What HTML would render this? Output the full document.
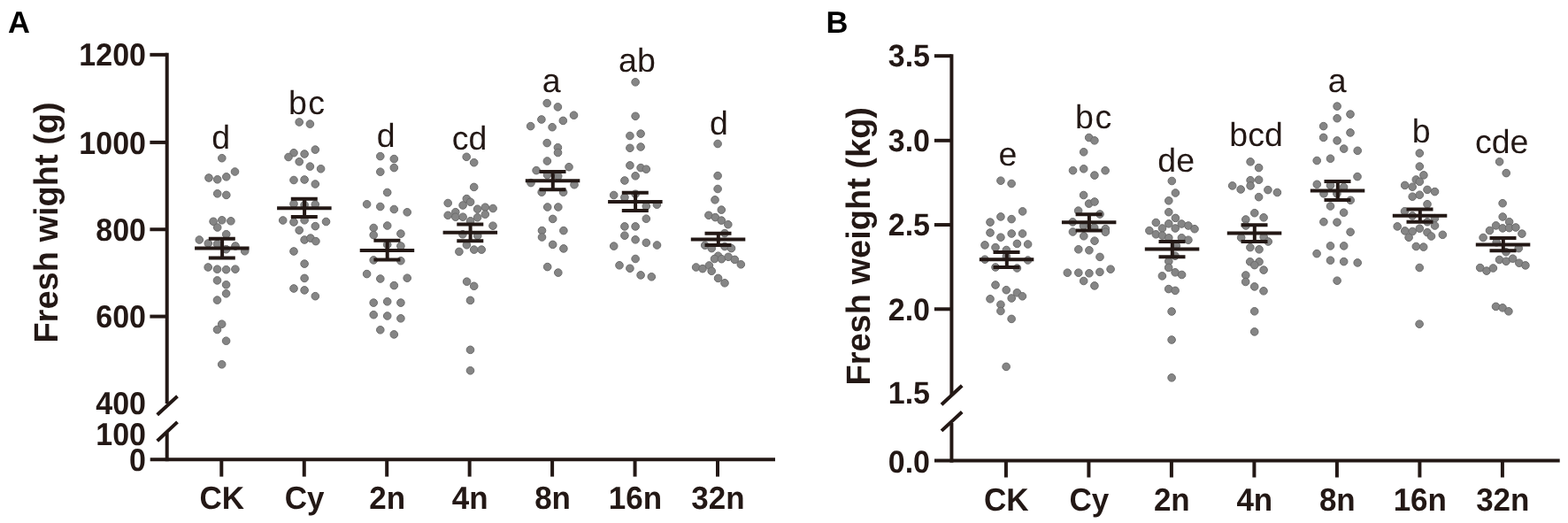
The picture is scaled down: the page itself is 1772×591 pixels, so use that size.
<!DOCTYPE html>
<html><head><meta charset="utf-8"><title>Fresh weight</title>
<style>html,body{margin:0;padding:0;background:#fff;}svg{display:block;}</style>
</head><body>
<svg width="1772" height="591" viewBox="0 0 1772 591" text-rendering="geometricPrecision">
<rect width="1772" height="591" fill="#fff"/>
<g fill="#858585" stroke="#6c6c6c" stroke-width="1.0">
<circle cx="250.8" cy="178.7" r="4.3"/>
<circle cx="265.5" cy="194" r="4.3"/>
<circle cx="236" cy="201" r="4.3"/>
<circle cx="245.7" cy="202.8" r="4.3"/>
<circle cx="255.8" cy="199.8" r="4.3"/>
<circle cx="245.7" cy="218.8" r="4.3"/>
<circle cx="255.8" cy="220.4" r="4.3"/>
<circle cx="241.1" cy="250.3" r="4.3"/>
<circle cx="250.8" cy="248.8" r="4.3"/>
<circle cx="260.9" cy="249.8" r="4.3"/>
<circle cx="245.7" cy="257" r="4.3"/>
<circle cx="255.7" cy="264.7" r="4.3"/>
<circle cx="225.3" cy="271" r="4.3"/>
<circle cx="235.3" cy="275" r="4.3"/>
<circle cx="245.5" cy="275.7" r="4.3"/>
<circle cx="266" cy="278" r="4.3"/>
<circle cx="276.7" cy="283.8" r="4.3"/>
<circle cx="255.6" cy="281.7" r="4.3"/>
<circle cx="235.2" cy="302" r="4.3"/>
<circle cx="245.5" cy="304.2" r="4.3"/>
<circle cx="255.6" cy="304.7" r="4.3"/>
<circle cx="265.9" cy="304.2" r="4.3"/>
<circle cx="245.5" cy="316.9" r="4.3"/>
<circle cx="255.6" cy="321.8" r="4.3"/>
<circle cx="255.6" cy="331.8" r="4.3"/>
<circle cx="245.5" cy="339.1" r="4.3"/>
<circle cx="250.7" cy="366.2" r="4.3"/>
<circle cx="245.5" cy="372.5" r="4.3"/>
<circle cx="255.6" cy="385.2" r="4.3"/>
<circle cx="250.7" cy="411.8" r="4.3"/>
<circle cx="338.2" cy="138" r="4.3"/>
<circle cx="350.4" cy="140.1" r="4.3"/>
<circle cx="332" cy="172.7" r="4.3"/>
<circle cx="326" cy="177.5" r="4.3"/>
<circle cx="344.1" cy="174" r="4.3"/>
<circle cx="356.3" cy="169.1" r="4.3"/>
<circle cx="338.2" cy="182.7" r="4.3"/>
<circle cx="350.4" cy="188.1" r="4.3"/>
<circle cx="362.6" cy="190.8" r="4.3"/>
<circle cx="332" cy="203.5" r="4.3"/>
<circle cx="344.1" cy="203" r="4.3"/>
<circle cx="356.3" cy="208" r="4.3"/>
<circle cx="332" cy="230.4" r="4.3"/>
<circle cx="344.1" cy="231.5" r="4.3"/>
<circle cx="356.3" cy="231" r="4.3"/>
<circle cx="319.7" cy="249" r="4.3"/>
<circle cx="332" cy="251" r="4.3"/>
<circle cx="344.1" cy="248.8" r="4.3"/>
<circle cx="356.3" cy="255.6" r="4.3"/>
<circle cx="368.5" cy="250.5" r="4.3"/>
<circle cx="338.2" cy="260.2" r="4.3"/>
<circle cx="344.1" cy="271" r="4.3"/>
<circle cx="350.9" cy="269.1" r="4.3"/>
<circle cx="356.9" cy="272.6" r="4.3"/>
<circle cx="332" cy="284" r="4.3"/>
<circle cx="344.1" cy="298.1" r="4.3"/>
<circle cx="344.1" cy="314.4" r="4.3"/>
<circle cx="332" cy="326" r="4.3"/>
<circle cx="344.1" cy="327.9" r="4.3"/>
<circle cx="356.3" cy="334.7" r="4.3"/>
<circle cx="429.8" cy="176.6" r="4.3"/>
<circle cx="445.3" cy="179.6" r="4.3"/>
<circle cx="429.8" cy="194.2" r="4.3"/>
<circle cx="445.3" cy="189.6" r="4.3"/>
<circle cx="437.7" cy="217.5" r="4.3"/>
<circle cx="414.6" cy="230.8" r="4.3"/>
<circle cx="429.8" cy="233.5" r="4.3"/>
<circle cx="445.3" cy="236.5" r="4.3"/>
<circle cx="460.2" cy="239.8" r="4.3"/>
<circle cx="422.2" cy="257.5" r="4.3"/>
<circle cx="437.7" cy="255" r="4.3"/>
<circle cx="422.2" cy="265.6" r="4.3"/>
<circle cx="452.9" cy="264.1" r="4.3"/>
<circle cx="437.7" cy="276.5" r="4.3"/>
<circle cx="452.9" cy="278" r="4.3"/>
<circle cx="422.2" cy="293.9" r="4.3"/>
<circle cx="452.9" cy="294.7" r="4.3"/>
<circle cx="414.6" cy="309.6" r="4.3"/>
<circle cx="429.8" cy="315" r="4.3"/>
<circle cx="445.3" cy="322.6" r="4.3"/>
<circle cx="460.2" cy="314.2" r="4.3"/>
<circle cx="422.2" cy="342.1" r="4.3"/>
<circle cx="437.7" cy="340.8" r="4.3"/>
<circle cx="452.9" cy="342.1" r="4.3"/>
<circle cx="422.2" cy="355.7" r="4.3"/>
<circle cx="437.7" cy="357" r="4.3"/>
<circle cx="452.9" cy="359.8" r="4.3"/>
<circle cx="429.8" cy="372.8" r="4.3"/>
<circle cx="445.3" cy="377.9" r="4.3"/>
<circle cx="527.2" cy="177.3" r="4.3"/>
<circle cx="535.7" cy="183.7" r="4.3"/>
<circle cx="535.7" cy="211.4" r="4.3"/>
<circle cx="506.2" cy="229.5" r="4.3"/>
<circle cx="527.3" cy="224.6" r="4.3"/>
<circle cx="531.6" cy="228.2" r="4.3"/>
<circle cx="523.1" cy="232" r="4.3"/>
<circle cx="539.6" cy="236.2" r="4.3"/>
<circle cx="548.3" cy="234.2" r="4.3"/>
<circle cx="557.1" cy="235.5" r="4.3"/>
<circle cx="506.2" cy="243.3" r="4.3"/>
<circle cx="514.8" cy="239.7" r="4.3"/>
<circle cx="514.8" cy="245.2" r="4.3"/>
<circle cx="523.1" cy="245.2" r="4.3"/>
<circle cx="531.6" cy="249.8" r="4.3"/>
<circle cx="539.6" cy="245.8" r="4.3"/>
<circle cx="548.3" cy="242.2" r="4.3"/>
<circle cx="557" cy="255.2" r="4.3"/>
<circle cx="522.9" cy="264.8" r="4.3"/>
<circle cx="539.8" cy="266.4" r="4.3"/>
<circle cx="527.4" cy="276.8" r="4.3"/>
<circle cx="518.9" cy="284.4" r="4.3"/>
<circle cx="535.7" cy="282.1" r="4.3"/>
<circle cx="544.2" cy="282.1" r="4.3"/>
<circle cx="527.6" cy="318.2" r="4.3"/>
<circle cx="535.7" cy="323.3" r="4.3"/>
<circle cx="531.5" cy="339.4" r="4.3"/>
<circle cx="531.5" cy="395.3" r="4.3"/>
<circle cx="531.5" cy="418.8" r="4.3"/>
<circle cx="618.2" cy="116.6" r="4.3"/>
<circle cx="630.4" cy="120.9" r="4.3"/>
<circle cx="648.5" cy="130.2" r="4.3"/>
<circle cx="611.9" cy="135" r="4.3"/>
<circle cx="636.3" cy="136.4" r="4.3"/>
<circle cx="599.7" cy="142.6" r="4.3"/>
<circle cx="624.1" cy="143.7" r="4.3"/>
<circle cx="618.2" cy="161.6" r="4.3"/>
<circle cx="630.4" cy="166.7" r="4.3"/>
<circle cx="630.5" cy="172.5" r="4.3"/>
<circle cx="618.4" cy="182" r="4.3"/>
<circle cx="606.1" cy="192.6" r="4.3"/>
<circle cx="643" cy="188.7" r="4.3"/>
<circle cx="618.5" cy="197.7" r="4.3"/>
<circle cx="630.7" cy="199.1" r="4.3"/>
<circle cx="600" cy="206.6" r="4.3"/>
<circle cx="649" cy="208.7" r="4.3"/>
<circle cx="612.2" cy="217.2" r="4.3"/>
<circle cx="636.6" cy="217.2" r="4.3"/>
<circle cx="618.7" cy="234" r="4.3"/>
<circle cx="630.8" cy="234" r="4.3"/>
<circle cx="624.7" cy="247.4" r="4.3"/>
<circle cx="612.5" cy="260.6" r="4.3"/>
<circle cx="636.9" cy="260.6" r="4.3"/>
<circle cx="612.5" cy="268" r="4.3"/>
<circle cx="624.7" cy="276.4" r="4.3"/>
<circle cx="636.9" cy="280.9" r="4.3"/>
<circle cx="618.7" cy="301.6" r="4.3"/>
<circle cx="630.8" cy="308.1" r="4.3"/>
<circle cx="718.1" cy="92.8" r="4.3"/>
<circle cx="718.1" cy="131.3" r="4.3"/>
<circle cx="711.9" cy="153.5" r="4.3"/>
<circle cx="724.1" cy="151.1" r="4.3"/>
<circle cx="711.9" cy="167.3" r="4.3"/>
<circle cx="724.1" cy="166" r="4.3"/>
<circle cx="711.9" cy="186.9" r="4.3"/>
<circle cx="724.1" cy="189.6" r="4.3"/>
<circle cx="730.3" cy="191.2" r="4.3"/>
<circle cx="718.1" cy="198.8" r="4.3"/>
<circle cx="705.9" cy="204" r="4.3"/>
<circle cx="693.7" cy="220.5" r="4.3"/>
<circle cx="705.9" cy="223" r="4.3"/>
<circle cx="718.1" cy="219.3" r="4.3"/>
<circle cx="730.3" cy="233" r="4.3"/>
<circle cx="742.4" cy="231.2" r="4.3"/>
<circle cx="730.3" cy="247.2" r="4.3"/>
<circle cx="705.9" cy="255.9" r="4.3"/>
<circle cx="718.1" cy="255.9" r="4.3"/>
<circle cx="705.9" cy="266.2" r="4.3"/>
<circle cx="718.1" cy="270.8" r="4.3"/>
<circle cx="730.3" cy="274.3" r="4.3"/>
<circle cx="742.5" cy="277" r="4.3"/>
<circle cx="693.7" cy="278.1" r="4.3"/>
<circle cx="718.1" cy="292.5" r="4.3"/>
<circle cx="700" cy="299.8" r="4.3"/>
<circle cx="711.9" cy="303.3" r="4.3"/>
<circle cx="724.1" cy="310.9" r="4.3"/>
<circle cx="736.3" cy="312.8" r="4.3"/>
<circle cx="811.1" cy="162.5" r="4.3"/>
<circle cx="811.1" cy="198.6" r="4.3"/>
<circle cx="811.1" cy="213.5" r="4.3"/>
<circle cx="808" cy="225.8" r="4.3"/>
<circle cx="815.3" cy="237.1" r="4.3"/>
<circle cx="800.9" cy="243.3" r="4.3"/>
<circle cx="808.3" cy="245.6" r="4.3"/>
<circle cx="815.3" cy="249.1" r="4.3"/>
<circle cx="822.8" cy="253.7" r="4.3"/>
<circle cx="819" cy="263.6" r="4.3"/>
<circle cx="796.7" cy="277.2" r="4.3"/>
<circle cx="804.2" cy="280.6" r="4.3"/>
<circle cx="819" cy="278.5" r="4.3"/>
<circle cx="826.5" cy="280.6" r="4.3"/>
<circle cx="811.6" cy="289.2" r="4.3"/>
<circle cx="807.5" cy="292.5" r="4.3"/>
<circle cx="815.4" cy="292.7" r="4.3"/>
<circle cx="823.1" cy="290.3" r="4.3"/>
<circle cx="830.3" cy="293.4" r="4.3"/>
<circle cx="837.3" cy="298.8" r="4.3"/>
<circle cx="786.6" cy="302" r="4.3"/>
<circle cx="794" cy="303.6" r="4.3"/>
<circle cx="801.4" cy="300" r="4.3"/>
<circle cx="804.2" cy="306.3" r="4.3"/>
<circle cx="811.6" cy="314.4" r="4.3"/>
<circle cx="819" cy="319.8" r="4.3"/>
<circle cx="1130.9" cy="204.2" r="4.3"/>
<circle cx="1143.1" cy="207.5" r="4.3"/>
<circle cx="1155.6" cy="238.9" r="4.3"/>
<circle cx="1119" cy="251.1" r="4.3"/>
<circle cx="1130.9" cy="244.9" r="4.3"/>
<circle cx="1143.1" cy="247.6" r="4.3"/>
<circle cx="1119" cy="263" r="4.3"/>
<circle cx="1130.9" cy="268.2" r="4.3"/>
<circle cx="1143.2" cy="264" r="4.3"/>
<circle cx="1155.5" cy="264" r="4.3"/>
<circle cx="1113" cy="276.9" r="4.3"/>
<circle cx="1125" cy="279.6" r="4.3"/>
<circle cx="1137.3" cy="282.5" r="4.3"/>
<circle cx="1149.4" cy="275.4" r="4.3"/>
<circle cx="1161.6" cy="276" r="4.3"/>
<circle cx="1113" cy="293.2" r="4.3"/>
<circle cx="1137.3" cy="289.8" r="4.3"/>
<circle cx="1161.6" cy="294" r="4.3"/>
<circle cx="1125" cy="302" r="4.3"/>
<circle cx="1149.4" cy="303" r="4.3"/>
<circle cx="1125" cy="322" r="4.3"/>
<circle cx="1137.2" cy="327.7" r="4.3"/>
<circle cx="1149.4" cy="330.8" r="4.3"/>
<circle cx="1155.4" cy="334.8" r="4.3"/>
<circle cx="1119" cy="337.8" r="4.3"/>
<circle cx="1143.2" cy="337" r="4.3"/>
<circle cx="1130.9" cy="344.2" r="4.3"/>
<circle cx="1130.9" cy="351.5" r="4.3"/>
<circle cx="1143.1" cy="360.4" r="4.3"/>
<circle cx="1137.1" cy="414.4" r="4.3"/>
<circle cx="1230.7" cy="155.5" r="4.3"/>
<circle cx="1236.9" cy="158.8" r="4.3"/>
<circle cx="1224.7" cy="171.8" r="4.3"/>
<circle cx="1212.5" cy="192.7" r="4.3"/>
<circle cx="1224.7" cy="190.8" r="4.3"/>
<circle cx="1236.9" cy="198.1" r="4.3"/>
<circle cx="1249.1" cy="192.7" r="4.3"/>
<circle cx="1224.6" cy="220.5" r="4.3"/>
<circle cx="1230.6" cy="230.1" r="4.3"/>
<circle cx="1237" cy="228" r="4.3"/>
<circle cx="1218.6" cy="238.1" r="4.3"/>
<circle cx="1243" cy="242" r="4.3"/>
<circle cx="1212.3" cy="250.9" r="4.3"/>
<circle cx="1224.5" cy="255.2" r="4.3"/>
<circle cx="1236.7" cy="257.2" r="4.3"/>
<circle cx="1249.3" cy="258.6" r="4.3"/>
<circle cx="1249.3" cy="262.2" r="4.3"/>
<circle cx="1212.4" cy="262" r="4.3"/>
<circle cx="1224.8" cy="266.8" r="4.3"/>
<circle cx="1237" cy="272.2" r="4.3"/>
<circle cx="1218.8" cy="281.8" r="4.3"/>
<circle cx="1230.9" cy="282.8" r="4.3"/>
<circle cx="1243" cy="290.4" r="4.3"/>
<circle cx="1206.3" cy="308.2" r="4.3"/>
<circle cx="1218.8" cy="308.2" r="4.3"/>
<circle cx="1230.9" cy="308.8" r="4.3"/>
<circle cx="1242.9" cy="307.4" r="4.3"/>
<circle cx="1255.1" cy="304.2" r="4.3"/>
<circle cx="1224.7" cy="317.5" r="4.3"/>
<circle cx="1236.9" cy="322.9" r="4.3"/>
<circle cx="1324.3" cy="204.5" r="4.3"/>
<circle cx="1328.4" cy="218" r="4.3"/>
<circle cx="1320.8" cy="226.8" r="4.3"/>
<circle cx="1320.8" cy="239.7" r="4.3"/>
<circle cx="1328.4" cy="246.4" r="4.3"/>
<circle cx="1306.3" cy="251.5" r="4.3"/>
<circle cx="1320.8" cy="252.8" r="4.3"/>
<circle cx="1335.3" cy="253" r="4.3"/>
<circle cx="1342.9" cy="255" r="4.3"/>
<circle cx="1313.5" cy="258" r="4.3"/>
<circle cx="1328.2" cy="258" r="4.3"/>
<circle cx="1350" cy="258.7" r="4.3"/>
<circle cx="1298.9" cy="260.6" r="4.3"/>
<circle cx="1306.3" cy="264.8" r="4.3"/>
<circle cx="1313.5" cy="266.1" r="4.3"/>
<circle cx="1320.8" cy="268.8" r="4.3"/>
<circle cx="1335.4" cy="268.8" r="4.3"/>
<circle cx="1342.9" cy="271.2" r="4.3"/>
<circle cx="1329.3" cy="277.7" r="4.3"/>
<circle cx="1328" cy="289.2" r="4.3"/>
<circle cx="1320.8" cy="295.3" r="4.3"/>
<circle cx="1320.7" cy="302.4" r="4.3"/>
<circle cx="1328.1" cy="307.8" r="4.3"/>
<circle cx="1335.6" cy="310.5" r="4.3"/>
<circle cx="1313.4" cy="311.9" r="4.3"/>
<circle cx="1320.7" cy="326.6" r="4.3"/>
<circle cx="1328.1" cy="328.4" r="4.3"/>
<circle cx="1324.1" cy="352" r="4.3"/>
<circle cx="1324.1" cy="384" r="4.3"/>
<circle cx="1324.1" cy="426.8" r="4.3"/>
<circle cx="1413.1" cy="182.8" r="4.3"/>
<circle cx="1422.6" cy="189.6" r="4.3"/>
<circle cx="1413.1" cy="203.7" r="4.3"/>
<circle cx="1422.6" cy="203.2" r="4.3"/>
<circle cx="1413.1" cy="209.9" r="4.3"/>
<circle cx="1392.7" cy="209.9" r="4.3"/>
<circle cx="1402.2" cy="214" r="4.3"/>
<circle cx="1432.9" cy="214.6" r="4.3"/>
<circle cx="1443.4" cy="217.5" r="4.3"/>
<circle cx="1422.6" cy="222.7" r="4.3"/>
<circle cx="1417.8" cy="240.7" r="4.3"/>
<circle cx="1407.8" cy="248" r="4.3"/>
<circle cx="1428.1" cy="245.8" r="4.3"/>
<circle cx="1407.9" cy="255" r="4.3"/>
<circle cx="1402.7" cy="268.6" r="4.3"/>
<circle cx="1428.2" cy="267.9" r="4.3"/>
<circle cx="1433.2" cy="273" r="4.3"/>
<circle cx="1412.9" cy="279.6" r="4.3"/>
<circle cx="1423" cy="281.8" r="4.3"/>
<circle cx="1412.7" cy="295.8" r="4.3"/>
<circle cx="1423" cy="295.8" r="4.3"/>
<circle cx="1417.8" cy="299.6" r="4.3"/>
<circle cx="1428.1" cy="305.1" r="4.3"/>
<circle cx="1407.8" cy="311" r="4.3"/>
<circle cx="1407.7" cy="318.5" r="4.3"/>
<circle cx="1417.7" cy="323.9" r="4.3"/>
<circle cx="1428" cy="328.8" r="4.3"/>
<circle cx="1417.7" cy="351.8" r="4.3"/>
<circle cx="1417.7" cy="374.9" r="4.3"/>
<circle cx="1511.1" cy="120.1" r="4.3"/>
<circle cx="1526" cy="129.1" r="4.3"/>
<circle cx="1511.1" cy="133.7" r="4.3"/>
<circle cx="1495.7" cy="142.6" r="4.3"/>
<circle cx="1526" cy="149.9" r="4.3"/>
<circle cx="1495.7" cy="155.4" r="4.3"/>
<circle cx="1511.1" cy="158.9" r="4.3"/>
<circle cx="1518.7" cy="168.1" r="4.3"/>
<circle cx="1534.2" cy="170.3" r="4.3"/>
<circle cx="1488.2" cy="181.5" r="4.3"/>
<circle cx="1503.5" cy="179.2" r="4.3"/>
<circle cx="1534" cy="199.6" r="4.3"/>
<circle cx="1488.3" cy="208.3" r="4.3"/>
<circle cx="1503.5" cy="209.4" r="4.3"/>
<circle cx="1518.6" cy="211.4" r="4.3"/>
<circle cx="1496" cy="218.8" r="4.3"/>
<circle cx="1510.9" cy="218.8" r="4.3"/>
<circle cx="1526.2" cy="226.3" r="4.3"/>
<circle cx="1503.5" cy="233" r="4.3"/>
<circle cx="1518.6" cy="240.2" r="4.3"/>
<circle cx="1495.9" cy="250.7" r="4.3"/>
<circle cx="1511" cy="251.2" r="4.3"/>
<circle cx="1526.1" cy="262.2" r="4.3"/>
<circle cx="1503.5" cy="277.9" r="4.3"/>
<circle cx="1518.7" cy="277.9" r="4.3"/>
<circle cx="1488.1" cy="286.6" r="4.3"/>
<circle cx="1503.5" cy="294.2" r="4.3"/>
<circle cx="1518.7" cy="295.6" r="4.3"/>
<circle cx="1534.2" cy="296.9" r="4.3"/>
<circle cx="1511.1" cy="317.2" r="4.3"/>
<circle cx="1604.3" cy="173.1" r="4.3"/>
<circle cx="1604.3" cy="188.1" r="4.3"/>
<circle cx="1608.9" cy="197.9" r="4.3"/>
<circle cx="1600.3" cy="203" r="4.3"/>
<circle cx="1604.3" cy="205.3" r="4.3"/>
<circle cx="1587.7" cy="209.4" r="4.3"/>
<circle cx="1596.2" cy="211.2" r="4.3"/>
<circle cx="1613" cy="214.4" r="4.3"/>
<circle cx="1621.5" cy="216.6" r="4.3"/>
<circle cx="1596.2" cy="222.2" r="4.3"/>
<circle cx="1604.3" cy="220.2" r="4.3"/>
<circle cx="1613" cy="230.7" r="4.3"/>
<circle cx="1587.5" cy="238.8" r="4.3"/>
<circle cx="1596.2" cy="243.9" r="4.3"/>
<circle cx="1621.5" cy="246.7" r="4.3"/>
<circle cx="1613" cy="250.7" r="4.3"/>
<circle cx="1621.5" cy="255" r="4.3"/>
<circle cx="1579.2" cy="255.9" r="4.3"/>
<circle cx="1587.7" cy="260.9" r="4.3"/>
<circle cx="1596.2" cy="261.5" r="4.3"/>
<circle cx="1604.3" cy="258.2" r="4.3"/>
<circle cx="1613" cy="262.6" r="4.3"/>
<circle cx="1617.5" cy="267" r="4.3"/>
<circle cx="1630.3" cy="265.3" r="4.3"/>
<circle cx="1592.1" cy="268.3" r="4.3"/>
<circle cx="1600.3" cy="278.5" r="4.3"/>
<circle cx="1608.7" cy="279.1" r="4.3"/>
<circle cx="1604.2" cy="302.5" r="4.3"/>
<circle cx="1604.1" cy="366.2" r="4.3"/>
<circle cx="1694.6" cy="182.8" r="4.3"/>
<circle cx="1702.2" cy="195.6" r="4.3"/>
<circle cx="1698.1" cy="229.7" r="4.3"/>
<circle cx="1698.2" cy="245" r="4.3"/>
<circle cx="1705.6" cy="250.7" r="4.3"/>
<circle cx="1690.6" cy="254.9" r="4.3"/>
<circle cx="1698.2" cy="257.9" r="4.3"/>
<circle cx="1705.6" cy="257.6" r="4.3"/>
<circle cx="1712.9" cy="257" r="4.3"/>
<circle cx="1683.5" cy="260.5" r="4.3"/>
<circle cx="1719.9" cy="264.1" r="4.3"/>
<circle cx="1676.1" cy="268.5" r="4.3"/>
<circle cx="1691.2" cy="273.8" r="4.3"/>
<circle cx="1716.2" cy="280.6" r="4.3"/>
<circle cx="1702" cy="284.7" r="4.3"/>
<circle cx="1694.5" cy="293.5" r="4.3"/>
<circle cx="1702.1" cy="295.3" r="4.3"/>
<circle cx="1709.6" cy="292.2" r="4.3"/>
<circle cx="1716.8" cy="297.2" r="4.3"/>
<circle cx="1723.9" cy="299.9" r="4.3"/>
<circle cx="1672.7" cy="302.6" r="4.3"/>
<circle cx="1680" cy="306.1" r="4.3"/>
<circle cx="1687.4" cy="303" r="4.3"/>
<circle cx="1690.5" cy="346.4" r="4.3"/>
<circle cx="1698.1" cy="347.8" r="4.3"/>
<circle cx="1704.9" cy="351.8" r="4.3"/>
</g>
<g stroke="#231815" stroke-width="4.0" fill="none">
<path d="M220.1 280.5H281.6M235.8 269.7H265.8M235.8 291.5H265.8M251.1 269.7V291.5"/>
<path d="M313.1 235.3H374.6M328.8 224.8H358.8M328.8 245H358.8M344.1 224.8V245"/>
<path d="M406.7 283.1H468.2M422.4 271.7H452.4M422.4 293.4H452.4M437.7 271.7V293.4"/>
<path d="M500.6 262.8H562.1M516.3 253.5H546.3M516.3 272.3H546.3M531.6 253.5V272.3"/>
<path d="M593.8 204.2H655.3M609.5 194H639.5M609.5 214.3H639.5M624.8 194V214.3"/>
<path d="M687.1 228H748.6M702.8 217.8H732.8M702.8 238H732.8M718.1 217.8V238"/>
<path d="M780.8 270.5H842.3M796.5 263.7H826.5M796.5 277H826.5M811.8 263.7V277"/>
<path d="M1106.8 293.3H1168.3M1122.5 284.9H1152.5M1122.5 302H1152.5M1137.8 284.9V302"/>
<path d="M1199.9 251.3H1261.4M1215.6 242.3H1245.6M1215.6 260.6H1245.6M1230.9 242.3V260.6"/>
<path d="M1293.8 281.4H1355.3M1309.5 273H1339.5M1309.5 290.2H1339.5M1324.8 273V290.2"/>
<path d="M1386.8 263.6H1448.3M1402.5 254.3H1432.5M1402.5 272.9H1432.5M1417.8 254.3V272.9"/>
<path d="M1480.8 215.6H1542.3M1496.5 205.1H1526.5M1496.5 226.1H1526.5M1511.8 205.1V226.1"/>
<path d="M1573.8 243.8H1635.3M1589.5 236.5H1619.5M1589.5 250.7H1619.5M1604.8 236.5V250.7"/>
<path d="M1667.8 276.5H1729.3M1683.5 269.1H1713.5M1683.5 283.3H1713.5M1698.8 269.1V283.3"/>
</g>
<g stroke="#231815" stroke-width="4.0" fill="none" stroke-linecap="butt">
<path d="M188.7 59.85V456"/>
<path d="M169.4 61.85H188.7"/>
<path d="M169.4 160.9H188.7"/>
<path d="M169.4 259.25H188.7"/>
<path d="M169.4 357.6H188.7"/>
<path d="M177.7 468.8L200.5 447.7M177.7 498.3L200.5 476.9"/>
<path d="M188.7 489V521.2"/>
<path d="M169.7 519.2H876"/>
<path d="M250.3 519.2V538.6"/>
<path d="M343.75 519.2V538.6"/>
<path d="M437.2 519.2V538.6"/>
<path d="M530.65 519.2V538.6"/>
<path d="M624.1 519.2V538.6"/>
<path d="M717.55 519.2V538.6"/>
<path d="M811 519.2V538.6"/>
<path d="M1075.4 61.2V446"/>
<path d="M1055.9 63.2H1075.4"/>
<path d="M1055.9 158.8H1075.4"/>
<path d="M1055.9 254.05H1075.4"/>
<path d="M1055.9 349.3H1075.4"/>
<path d="M1064 457.2L1087.2 435.8M1064 486.9L1087.2 465.5"/>
<path d="M1075.4 478V522.6"/>
<path d="M1056 520.6H1762.7"/>
<path d="M1136.9 520.6V539.5"/>
<path d="M1230.4 520.6V539.5"/>
<path d="M1323.9 520.6V539.5"/>
<path d="M1417.4 520.6V539.5"/>
<path d="M1510.9 520.6V539.5"/>
<path d="M1604.4 520.6V539.5"/>
<path d="M1697.9 520.6V539.5"/>
</g>
<g font-family="Liberation Sans, Arial, sans-serif" fill="#231815" font-weight="bold">
<text transform="translate(8.9 36.8) scale(1 1.0)" font-size="34.5" text-anchor="start" fill="#000">A</text>
<text transform="translate(933.5 36.8) scale(1 1.0)" font-size="34.5" text-anchor="start" fill="#000">B</text>
<text transform="translate(165 73.9) scale(1 1.055)" font-size="34" text-anchor="end">1200</text>
<text transform="translate(165 173.5) scale(1 1.055)" font-size="34" text-anchor="end">1000</text>
<text transform="translate(165 271.85) scale(1 1.055)" font-size="34" text-anchor="end">800</text>
<text transform="translate(165 370.2) scale(1 1.055)" font-size="34" text-anchor="end">600</text>
<text transform="translate(165 468.4) scale(1 1.055)" font-size="34" text-anchor="end">400</text>
<text transform="translate(165 502.6) scale(1 1.055)" font-size="34" text-anchor="end">100</text>
<text transform="translate(165 531.5) scale(1 1.055)" font-size="34" text-anchor="end">0</text>
<text transform="translate(1051 75) scale(1 1.04)" font-size="34" text-anchor="end">3.5</text>
<text transform="translate(1051 171.1) scale(1 1.04)" font-size="34" text-anchor="end">3.0</text>
<text transform="translate(1051 266.35) scale(1 1.04)" font-size="34" text-anchor="end">2.5</text>
<text transform="translate(1051 361.6) scale(1 1.04)" font-size="34" text-anchor="end">2.0</text>
<text transform="translate(1051 456.3) scale(1 1.04)" font-size="34" text-anchor="end">1.5</text>
<text transform="translate(1051 533.9) scale(1 1.04)" font-size="34" text-anchor="end">0.0</text>
<text transform="translate(250.75 575.2) scale(1 1.03)" font-size="35" text-anchor="middle">CK</text>
<text transform="translate(1137.3 576.9) scale(1 1.03)" font-size="35" text-anchor="middle">CK</text>
<text transform="translate(344.2 575.2) scale(1 1.03)" font-size="35" text-anchor="middle">Cy</text>
<text transform="translate(1230.8 576.9) scale(1 1.03)" font-size="35" text-anchor="middle">Cy</text>
<text transform="translate(437.65 575.2) scale(1 1.03)" font-size="35" text-anchor="middle">2n</text>
<text transform="translate(1324.3 576.9) scale(1 1.03)" font-size="35" text-anchor="middle">2n</text>
<text transform="translate(531.1 575.2) scale(1 1.03)" font-size="35" text-anchor="middle">4n</text>
<text transform="translate(1417.8 576.9) scale(1 1.03)" font-size="35" text-anchor="middle">4n</text>
<text transform="translate(624.55 575.2) scale(1 1.03)" font-size="35" text-anchor="middle">8n</text>
<text transform="translate(1511.3 576.9) scale(1 1.03)" font-size="35" text-anchor="middle">8n</text>
<text transform="translate(718 575.2) scale(1 1.03)" font-size="35" text-anchor="middle">16n</text>
<text transform="translate(1604.8 576.9) scale(1 1.03)" font-size="35" text-anchor="middle">16n</text>
<text transform="translate(811.45 575.2) scale(1 1.03)" font-size="35" text-anchor="middle">32n</text>
<text transform="translate(1698.3 576.9) scale(1 1.03)" font-size="35" text-anchor="middle">32n</text>
<text transform="translate(65.4 251.45) rotate(-90) scale(1 1.0)" font-size="38" text-anchor="middle">Fresh wight (g)</text>
<text transform="translate(983.2 278.3) rotate(-90) scale(1 1.0)" font-size="38" text-anchor="middle">Fresh weight (kg)</text>
</g>
<g font-family="Liberation Sans, Arial, sans-serif" fill="#231815" font-size="37.5" text-anchor="middle">
<text x="249.8" y="167.5">d</text>
<text x="347.3" y="129" letter-spacing="1.6">bc</text>
<text x="436.2" y="165.8">d</text>
<text x="530.5" y="168.9">cd</text>
<text x="623.2" y="104.3">a</text>
<text x="719.9" y="81">ab</text>
<text x="812.5" y="152">d</text>
<text x="1138.9" y="187">e</text>
<text x="1236.4" y="144.5" letter-spacing="1.6">bc</text>
<text x="1329.2" y="193.6">de</text>
<text x="1419.6" y="164.7">bcd</text>
<text x="1511.2" y="104.3">a</text>
<text x="1606.2" y="161.2">b</text>
<text x="1697.2" y="173.2">cde</text>
</g>
</svg>
</body></html>
